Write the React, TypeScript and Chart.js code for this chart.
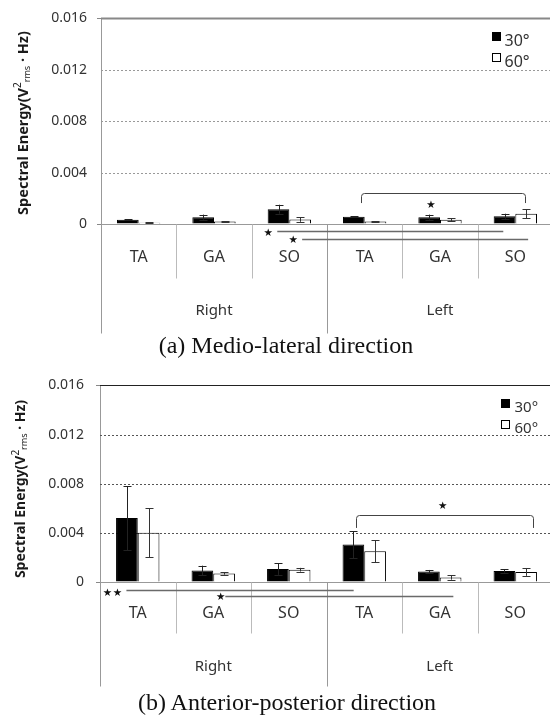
import React, { useEffect, useRef } from 'react';
import { Chart, registerables } from 'chart.js';

Chart.register(...registerables);

// ---------- data ----------
const categories = ['TA', 'GA', 'SO', 'TA', 'GA', 'SO'];
const groupLabels = ['Right', 'Left'];
const groupCenters = [1, 4]; // category index at the centre of each group
const seriesLabels = ['30°', '60°'];
const yTickLabels = ['0', '0.004', '0.008', '0.012', '0.016'];
const yMax = 0.016;
const yStep = 0.004;

// (a) Medio-lateral direction
const ml30 = [0.00033, 0.00053, 0.00115, 0.00056, 0.00053, 0.0006];
const ml30Err = [0.00003, 0.0002, 0.00035, 0.00003, 0.0002, 0.0002];
const ml60 = [0.0001, 0.0002, 0.00035, 0.0002, 0.00033, 0.0008];
const ml60Err = [0.00002, 0.00003, 0.00018, 0.00003, 0.0001, 0.00036];
// bracket: [from index, to index, top value, foot value]
const mlBracket = [2.95, 5.13, 0.00242, 0.00163];
// significance lines under the axis: [from index, to index, value]
const mlBelowLines = [
  [1.84, 4.84, -0.00057],
  [2.17, 5.17, -0.00115],
];
// stars: [index, value]
const mlStars = [
  [3.88, 0.00148],
  [1.72, -0.00074],
  [2.05, -0.00128],
];

// (b) Anterior-posterior direction
const ap30 = [0.0052, 0.00093, 0.00106, 0.00305, 0.00085, 0.0009];
const ap30Err = [0.0026, 0.0004, 0.00048, 0.0011, 0.00013, 0.00013];
const ap60 = [0.004, 0.0007, 0.001, 0.0025, 0.00037, 0.00082];
const ap60Err = [0.002, 0.0001, 0.00015, 0.0009, 0.00018, 0.00032];
const apBracket = [2.89, 5.23, 0.00546, 0.0044];
const apBelowLines = [
  [-0.15, 2.86, -0.00064],
  [1.16, 4.18, -0.00117],
];
const apStars = [
  [4.04, 0.0062],
  [-0.4, -0.00093],
  [-0.27, -0.00093],
  [1.1, -0.00125],
];

const captionA = '(a) Medio-lateral direction';
const captionB = '(b) Anterior-posterior direction';

// ---------- layout / style ----------
type Panel = {
  id: string;
  s30: number[]; e30: number[]; s60: number[]; e60: number[];
  bracket: number[]; lines: number[][]; stars: number[][];
  canvasTop: number; canvasH: number; padTop: number; plotBottom: number;
  yAxisW: number; tickPad: number;
  catBaseDy: number; groupBaseDy: number; dividerDy: number; longDy: number;
  titleX: number; titleCy: number; titleFont: number;
  gridColor: string; topColor: string; topWidth: number;
  lgDx: number; lgDy: number; lgGap: number; lgTdx: number; lgTdy: number; lgFont: number;
};

const panels: Panel[] = [
  {
    id: 'a', s30: ml30, e30: ml30Err, s60: ml60, e60: ml60Err,
    bracket: mlBracket, lines: mlBelowLines, stars: mlStars,
    canvasTop: 0, canvasH: 340, padTop: 15, plotBottom: 224,
    yAxisW: 101, tickPad: 10,
    catBaseDy: 37.4, groupBaseDy: 90.7, dividerDy: 54, longDy: 109,
    titleX: 24, titleCy: 123, titleFont: 14.5,
    gridColor: '#999', topColor: '#888', topWidth: 2,
    lgDx: 61, lgDy: 13.3, lgGap: 21.7, lgTdx: 12, lgTdy: 13, lgFont: 16,
  },
  {
    id: 'b', s30: ap30, e30: ap30Err, s60: ap60, e60: ap60Err,
    bracket: apBracket, lines: apBelowLines, stars: apStars,
    canvasTop: 365, canvasH: 330, padTop: 16, plotBottom: 217,
    yAxisW: 100, tickPad: 12,
    catBaseDy: 35.3, groupBaseDy: 88, dividerDy: 51, longDy: 104,
    titleX: 21, titleCy: 124, titleFont: 14,
    gridColor: '#555', topColor: '#222', topWidth: 1,
    lgDx: 52, lgDy: 14, lgGap: 21, lgTdx: 13, lgTdy: 12, lgFont: 15,
  },
];

const FONT = "'Noto Sans', 'Open Sans', sans-serif";
const CANVAS_W = 553;

function makePlugin(p: Panel) {
  return {
    id: 'annot_' + p.id,
    beforeDatasetsDraw(chart: any) {
      const { ctx, chartArea, scales } = chart;
      const y = scales.y;
      ctx.save();
      y.ticks.forEach((t: any) => {
        const v = t.value;
        if (v <= 0) return;
        const py = Math.round(y.getPixelForValue(v)) + 0.5;
        ctx.beginPath();
        if (Math.abs(v - yMax) < 1e-9) {
          ctx.setLineDash([]);
          ctx.strokeStyle = p.topColor;
          ctx.lineWidth = p.topWidth;
        } else {
          ctx.setLineDash([2, 2]);
          ctx.strokeStyle = p.gridColor;
          ctx.lineWidth = 1;
        }
        ctx.moveTo(chartArea.left, py);
        ctx.lineTo(chartArea.right, py);
        ctx.stroke();
      });
      ctx.restore();
    },
    afterDraw(chart: any) {
      const { ctx, chartArea, scales } = chart;
      const x = scales.x;
      const y = scales.y;
      const zero = Math.round(y.getPixelForValue(0)) + 0.5;
      ctx.save();
      ctx.setLineDash([]);

      // zero line
      ctx.strokeStyle = '#999';
      ctx.lineWidth = 1;
      ctx.beginPath();
      ctx.moveTo(chartArea.left, zero);
      ctx.lineTo(chartArea.right, zero);
      ctx.stroke();

      // error bars
      const errs = [p.e30, p.e60];
      [0, 1].forEach((di) => {
        const meta = chart.getDatasetMeta(di);
        const vals = chart.data.datasets[di].data as number[];
        meta.data.forEach((el: any, j: number) => {
          const v = vals[j];
          const e = errs[di][j];
          const cx = Math.round(el.x) + 0.5;
          const yt = y.getPixelForValue(v + e);
          const yb = y.getPixelForValue(v - e);
          ctx.strokeStyle = di === 0 ? '#222' : '#333';
          ctx.lineWidth = 1;
          ctx.beginPath();
          ctx.moveTo(cx, yt);
          ctx.lineTo(cx, yb);
          ctx.moveTo(cx - 4, Math.round(yt) + 0.5);
          ctx.lineTo(cx + 4, Math.round(yt) + 0.5);
          ctx.moveTo(cx - 4, Math.round(yb) + 0.5);
          ctx.lineTo(cx + 4, Math.round(yb) + 0.5);
          ctx.stroke();
        });
      });

      // bracket
      {
        const [i1, i2, vTop, vFoot] = p.bracket;
        const x1 = Math.round(x.getPixelForValue(i1)) + 0.5;
        const x2 = Math.round(x.getPixelForValue(i2)) + 0.5;
        const yt = Math.round(y.getPixelForValue(vTop)) + 0.5;
        const yf = y.getPixelForValue(vFoot);
        const r = 3;
        ctx.strokeStyle = '#444';
        ctx.lineWidth = 1;
        ctx.beginPath();
        ctx.moveTo(x1, yf);
        ctx.lineTo(x1, yt + r);
        ctx.quadraticCurveTo(x1, yt, x1 + r, yt);
        ctx.lineTo(x2 - r, yt);
        ctx.quadraticCurveTo(x2, yt, x2, yt + r);
        ctx.lineTo(x2, yf);
        ctx.stroke();
      }

      // category dividers below the axis
      ctx.lineWidth = 1;
      for (let k = 0; k < categories.length - 1; k++) {
        const dx = Math.round(x.getPixelForValue(k + 0.5)) + 0.5;
        const long = k === 2;
        ctx.strokeStyle = long ? '#999' : '#bbb';
        ctx.beginPath();
        ctx.moveTo(dx, zero);
        ctx.lineTo(dx, zero + (long ? p.longDy : p.dividerDy));
        ctx.stroke();
      }
      // left axis extension
      {
        const lx = Math.round(x.getPixelForValue(-0.5)) + 0.5;
        ctx.strokeStyle = '#999';
        ctx.beginPath();
        ctx.moveTo(lx, zero);
        ctx.lineTo(lx, zero + p.longDy);
        ctx.stroke();
      }

      // significance lines under the axis
      ctx.strokeStyle = '#6a6a6a';
      ctx.lineWidth = 1.3;
      p.lines.forEach(([a, b, v]) => {
        const ly = Math.round(y.getPixelForValue(v)) + 0.5;
        ctx.beginPath();
        ctx.moveTo(x.getPixelForValue(a), ly);
        ctx.lineTo(x.getPixelForValue(b), ly);
        ctx.stroke();
      });

      // stars
      ctx.fillStyle = '#111';
      ctx.font = "10.5px 'DejaVu Sans'";
      ctx.textAlign = 'center';
      ctx.textBaseline = 'middle';
      p.stars.forEach(([a, v]) => {
        ctx.fillText('★', x.getPixelForValue(a), y.getPixelForValue(v));
      });

      // category labels
      ctx.fillStyle = '#333';
      ctx.font = `16px ${FONT}`;
      ctx.textAlign = 'center';
      ctx.textBaseline = 'alphabetic';
      categories.forEach((c, k) => {
        ctx.fillText(c, x.getPixelForValue(k), zero + p.catBaseDy);
      });
      // group labels
      ctx.font = `15px ${FONT}`;
      groupLabels.forEach((g, k) => {
        ctx.fillText(g, x.getPixelForValue(groupCenters[k]), zero + p.groupBaseDy);
      });

      // legend
      const ds = chart.data.datasets;
      ds.forEach((d: any, k: number) => {
        const sx = Math.round(chartArea.right - p.lgDx) + 0.5;
        const sy = Math.round(chartArea.top + p.lgDy + k * p.lgGap) + 0.5;
        ctx.fillStyle = d.backgroundColor;
        ctx.fillRect(sx, sy, 8, 8);
        ctx.strokeStyle = '#000';
        ctx.lineWidth = 1;
        ctx.strokeRect(sx, sy, 8, 8);
        ctx.fillStyle = '#333';
        ctx.font = `${p.lgFont}px ${FONT}`;
        ctx.textAlign = 'left';
        ctx.textBaseline = 'alphabetic';
        ctx.fillText(d.label, sx + p.lgTdx, sy + p.lgTdy);
      });

      // y-axis title with super/subscript
      {
        const f = p.titleFont;
        const parts = [
          { t: 'Spectral Energy(V', font: `bold ${f}px ${FONT}`, dy: 0 },
          { t: '2', font: `${Math.round(f * 0.72)}px ${FONT}`, dy: -f * 0.38 },
          { t: 'rms', font: `${Math.round(f * 0.62)}px ${FONT}`, dy: f * 0.22 },
          { t: ' · Hz)', font: `bold ${f}px ${FONT}`, dy: 0 },
        ];
        let total = 0;
        const widths = parts.map((pt) => {
          ctx.font = pt.font;
          const w = ctx.measureText(pt.t).width;
          total += w;
          return w;
        });
        ctx.translate(p.titleX, p.titleCy);
        ctx.rotate(-Math.PI / 2);
        ctx.fillStyle = '#1a1a1a';
        ctx.textAlign = 'left';
        ctx.textBaseline = 'middle';
        let cx = -total / 2;
        parts.forEach((pt, k) => {
          ctx.font = pt.font;
          ctx.fillText(pt.t, cx, pt.dy);
          cx += widths[k];
        });
      }
      ctx.restore();
    },
  };
}

function PanelChart({ p }: { p: Panel }) {
  const ref = useRef<HTMLCanvasElement | null>(null);
  useEffect(() => {
    if (!ref.current) return;
    const chart = new Chart(ref.current, {
      type: 'bar',
      data: {
        labels: categories,
        datasets: [
          {
            label: seriesLabels[0],
            data: p.s30,
            backgroundColor: '#000',
            borderColor: '#000',
            borderWidth: 1,
            categoryPercentage: 0.575,
            barPercentage: 1,
          },
          {
            label: seriesLabels[1],
            data: p.s60,
            backgroundColor: '#fff',
            borderColor: '#000',
            borderWidth: 1,
            categoryPercentage: 0.575,
            barPercentage: 1,
          },
        ],
      },
      options: {
        responsive: false,
        animation: false,
        devicePixelRatio: 1,
        layout: { padding: { top: p.padTop, left: 0, right: 0, bottom: 0 } },
        plugins: {
          legend: { display: false },
          tooltip: { enabled: false },
          title: { display: false },
        },
        scales: {
          x: {
            type: 'category',
            offset: true,
            ticks: { display: false },
            grid: { display: false, drawTicks: false },
            border: { display: true, color: '#999', width: 1 },
            afterFit: (s: any) => {
              s.height = p.canvasH - p.plotBottom;
            },
          },
          y: {
            min: 0,
            max: yMax,
            ticks: {
              stepSize: yStep,
              padding: p.tickPad,
              color: '#333',
              font: { family: FONT, size: 14 },
              callback: (_v: any, i: number) => yTickLabels[i],
            },
            grid: {
              drawOnChartArea: false,
              drawTicks: true,
              tickLength: 4,
              color: '#888',
              tickColor: (c: any) =>
                c.tick && (c.tick.value === 0 || Math.abs(c.tick.value - yMax) < 1e-9)
                  ? '#888'
                  : 'rgba(0,0,0,0)',
            },
            border: { display: true, color: '#999', width: 1 },
            afterFit: (s: any) => {
              s.width = p.yAxisW;
            },
          },
        },
      } as any,
      plugins: [makePlugin(p)],
    });
    return () => chart.destroy();
  }, [p]);
  return (
    <canvas
      ref={ref}
      width={CANVAS_W}
      height={p.canvasH}
      style={{ position: 'absolute', left: 0, top: p.canvasTop, width: CANVAS_W, height: p.canvasH }}
    />
  );
}

const captionStyle: React.CSSProperties = {
  position: 'absolute',
  left: 0,
  width: 572,
  textAlign: 'center',
  fontFamily: "'Liberation Serif', 'Times New Roman', serif",
  fontSize: 24,
  lineHeight: '24px',
  color: '#111',
  whiteSpace: 'nowrap',
};

export default function App() {
  return (
    <div
      style={{
        position: 'absolute',
        left: 0,
        top: 0,
        width: 550,
        height: 720,
        overflow: 'hidden',
        background: '#fff',
      }}
    >
      <PanelChart p={panels[0]} />
      <PanelChart p={panels[1]} />
      <div style={{ ...captionStyle, top: 333 }}>{captionA}</div>
      <div style={{ ...captionStyle, top: 690, width: 574 }}>{captionB}</div>
    </div>
  );
}
